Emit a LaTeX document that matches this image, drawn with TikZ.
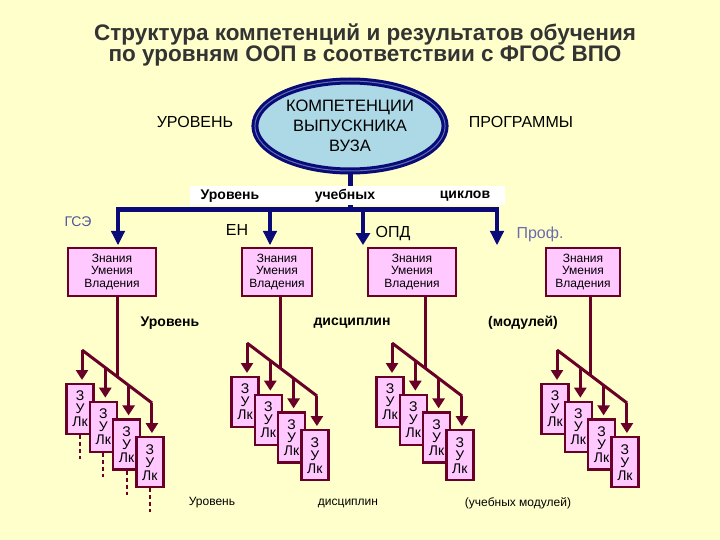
\documentclass[tikz,border=0pt]{standalone}
\usepackage{fontspec}
\setmainfont{Liberation Sans}
\usetikzlibrary{arrows.meta,shapes.geometric}
\definecolor{bg}{RGB}{255,255,204}
\definecolor{navy}{RGB}{10,10,120}
\definecolor{maroon}{RGB}{105,0,40}
\definecolor{pinkf}{RGB}{255,200,255}
\definecolor{ellf}{RGB}{173,216,230}
\tikzset{
 zbox/.style={draw=maroon,line width=2.2pt,fill=pinkf,minimum width=88pt,minimum height=48pt,font=\fontsize{12}{12.5}\selectfont,align=center,inner sep=1pt},
 sbox/.style={draw=maroon,line width=2.2pt,fill=pinkf,minimum width=27pt,minimum height=50pt,font=\fontsize{14}{13}\selectfont,align=center,inner sep=0pt},
 mline/.style={maroon,line width=3pt},
 marr/.style={maroon,line width=3pt,-{Triangle[width=12pt,length=10pt]}},
 narr/.style={navy,line width=1.2pt,double=navy,double distance=2pt,-{Triangle[width=14pt,length=14pt]}},
 lbl/.style={font=\fontsize{14}{14}\selectfont},
 blbl/.style={font=\bfseries\fontsize{14}{14}\selectfont},
}
\newcommand\mygrp[3]{% #1 x start,#2 y start,#3 name
 \coordinate (#3d0) at (#1,#2);
 \coordinate (#3d1) at (#1+70,#2+53);
 \draw[mline] (#3d0) -- (#3d1);
 \foreach \i in {0,1,2,3}{
   \pgfmathsetmacro\xx{#1+\i*23.3}
   \pgfmathsetmacro\yy{#2+\i*17.7}
   \coordinate (#3a\i) at (\xx,\yy);
   \coordinate (#3t\i) at (\xx,\yy+30);
   \node[sbox,anchor=north] (#3b\i) at (\xx-2,\yy+33) {З\\У\\Лк};
 }
 \foreach \i in {0,1,2,3}{\draw[marr] (#3a\i) -- (#3t\i);}
}
\begin{document}
\begin{tikzpicture}[x=1pt,y=-1pt]
\fill[bg] (0,0) rectangle (720,540);
\useasboundingbox (0,0) rectangle (720,540);
% title
\node[font=\bfseries\fontsize{22.5}{21}\selectfont,text=black!80,align=center] (title) at (365,45) {Структура компетенций и результатов обучения\\по уровням ООП в соответствии с ФГОС ВПО};
% ellipse
\node[ellipse,draw=navy,line width=3pt,double=ellf!50!navy,double distance=1pt,fill=ellf,minimum width=190pt,minimum height=90pt,align=center,font=\fontsize{16.5}{20}\selectfont] (ell) at (350,126) {КОМПЕТЕНЦИИ\\ВЫПУСКНИКА\\ВУЗА};
\node[font=\fontsize{16}{16}\selectfont] (ur) at (195,122) {УРОВЕНЬ};
\node[font=\fontsize{16}{16}\selectfont] (pr) at (521,122) {ПРОГРАММЫ};
\coordinate (bar) at (350,210);
\draw[navy,line width=5pt] (ell.south) -- (bar);
\fill[white] (190,186) rectangle (505,205);
\node[blbl] (l1) at (230,196) {Уровень};
\node[blbl] (l2) at (345,196) {учебных};
\node[blbl] (l3) at (465,196) {циклов};
\coordinate (b1) at (118,210); \coordinate (b2) at (270,210);
\coordinate (b3) at (363,210); \coordinate (b4) at (497,210);
\draw[navy,line width=5pt] (116,210) -- (499,210);
\node[zbox] (z1) at (112,272) {Знания\\Умения\\Владения};
\node[zbox,minimum width=70pt] (z2) at (277,272) {Знания\\Умения\\Владения};
\node[zbox] (z3) at (412,272) {Знания\\Умения\\Владения};
\node[zbox,minimum width=74pt] (z4) at (583,272) {Знания\\Умения\\Владения};
\draw[narr] (b1) -- (118,245);
\draw[narr] (b2) -- (270,245);
\draw[navy,line width=4pt,-{Triangle[width=14pt,length=12pt]}] (b3) -- (363,245);
\draw[narr] (b4) -- (497,245);
\node[lbl,text=navy!70!white] (g) at (78,222) {ГСЭ};
\node[font=\fontsize{16}{16}\selectfont] (en) at (237,230) {ЕН};
\node[font=\fontsize{16}{16}\selectfont] (opd) at (393,234) {ОПД};
\node[font=\fontsize{16}{16}\selectfont,text=navy!60!white] (prof) at (540,234) {Проф.};
\node[blbl] (m1) at (170,323) {Уровень};
\node[blbl] (m2) at (352,323) {дисциплин};
\node[blbl] (m3) at (523,323) {(модулей)};
% groups
\mygrp{82}{350}{ga}
\mygrp{247}{343}{gb}
\mygrp{392}{343}{gc}
\mygrp{557}{350}{gd}
\draw[mline] (z1.south -| 117,0) -- (117,376);
\draw[mline] (z2.south -| 280,0) -- (280,368);
\draw[mline] (z3.south -| 425,0) -- (425,368);
\draw[mline] (z4.south -| 590,0) -- (590,375);
\foreach \i in {0,1,2,3}{\draw[maroon,line width=2pt,dash pattern=on 4pt off 3pt] (gab\i.south) -- ++(0,24);}
\node[font=\fontsize{12}{12}\selectfont] (f1) at (212,503) {Уровень};
\node[font=\fontsize{12}{12}\selectfont] (f2) at (348,503) {дисциплин};
\node[font=\fontsize{12}{12}\selectfont] (f3) at (518,503) {(учебных модулей)};
\end{tikzpicture}
\end{document}
